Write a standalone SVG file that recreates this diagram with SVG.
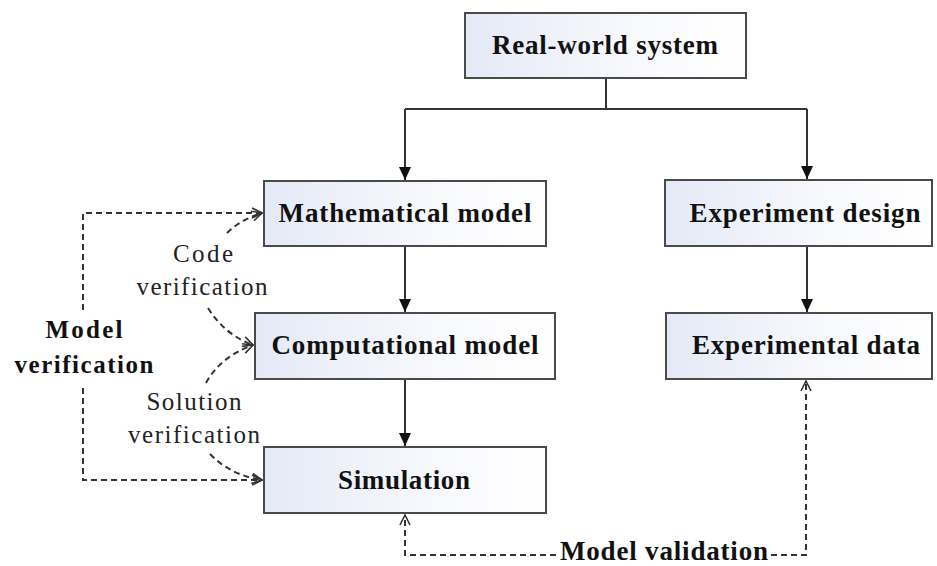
<svg xmlns="http://www.w3.org/2000/svg" width="937" height="566" viewBox="0 0 937 566">
<style>
.box{fill:url(#g);stroke:#4a4a4a;stroke-width:2}
.t{font-family:"Liberation Serif","DejaVu Serif",serif;font-weight:bold;font-size:27px;fill:#111;text-anchor:middle}
.m{font-family:"Liberation Serif","DejaVu Serif",serif;font-weight:bold;font-size:25px;fill:#111;text-anchor:middle}
.l{font-family:"Liberation Serif","DejaVu Serif",serif;font-size:25px;fill:#222;text-anchor:middle}
.s{fill:none;stroke:#333;stroke-width:2}
.d{fill:none;stroke:#333;stroke-width:2;stroke-dasharray:6 4}
</style>
<defs>
<linearGradient id="g" x1="0" y1="0" x2="1" y2="0">
<stop offset="0" stop-color="#e4e9f6"/>
<stop offset="0.6" stop-color="#f8f9fd"/>
<stop offset="1" stop-color="#ffffff"/>
</linearGradient>
<marker id="fa" markerUnits="userSpaceOnUse" markerWidth="14" markerHeight="14" viewBox="0 0 14 14" refX="13" refY="7" orient="auto">
<path d="M0,1 L13,7 L0,13 Z" fill="#111"/>
</marker>
<marker id="oa" markerUnits="userSpaceOnUse" markerWidth="12" markerHeight="12" viewBox="0 0 12 12" refX="11" refY="6" orient="auto">
<path d="M1,1 L11,6 L1,11" fill="none" stroke="#333" stroke-width="1.6"/>
</marker>
</defs>
<rect width="937" height="566" fill="#fff"/>
<g id="connectors">
<path class="s" d="M606,78 V109"/>
<path class="s" d="M405,109 H807"/>
<path class="s" d="M405,109 V180" marker-end="url(#fa)"/>
<path class="s" d="M807,109 V179" marker-end="url(#fa)"/>
<path class="s" d="M405,246 V312" marker-end="url(#fa)"/>
<path class="s" d="M807,246 V312" marker-end="url(#fa)"/>
<path class="s" d="M405,380 V446" marker-end="url(#fa)"/>
<path class="d" d="M83,310 V213 H262" marker-end="url(#oa)"/>
<path class="d" d="M83,388 V480 H262" marker-end="url(#oa)"/>
<path class="d" d="M227,233 Q240,220 262,213" marker-end="url(#oa)"/>
<path class="d" d="M208,308 Q225,335 253,345" marker-end="url(#oa)"/>
<path class="d" d="M206,383 Q220,357 253,345" marker-end="url(#oa)"/>
<path class="d" d="M210,454 Q230,475 262,480" marker-end="url(#oa)"/>
<path class="d" d="M556,555 H405 V515" marker-end="url(#oa)"/>
<path class="d" d="M771,555 H806 V381" marker-end="url(#oa)"/>
</g>
<g id="real-world">
<rect class="box" x="465" y="13" width="281" height="65"/>
<text class="t" x="605" y="54" textLength="226">Real-world system</text>
</g>
<g id="math-model">
<rect class="box" x="264" y="181" width="282" height="65"/>
<text class="t" x="405" y="222" textLength="253">Mathematical model</text>
</g>
<g id="exp-design">
<rect class="box" x="665" y="180" width="267" height="66"/>
<text class="t" x="805" y="222" textLength="231">Experiment design</text>
</g>
<g id="comp-model">
<rect class="box" x="255" y="313" width="300" height="66"/>
<text class="t" x="405" y="354" textLength="267">Computational model</text>
</g>
<g id="exp-data">
<rect class="box" x="666" y="313" width="266" height="66"/>
<text class="t" x="806" y="354" textLength="228">Experimental data</text>
</g>
<g id="simulation">
<rect class="box" x="264" y="447" width="282" height="66"/>
<text class="t" x="404" y="489" textLength="132">Simulation</text>
</g>
<g id="labels">
<text class="m" x="84" y="338" textLength="77">Model</text>
<text class="m" x="84" y="373" textLength="139">verification</text>
<text class="l" x="203" y="262" textLength="60">Code</text>
<text class="l" x="202" y="295" textLength="131">verification</text>
<text class="l" x="194" y="410" textLength="95">Solution</text>
<text class="l" x="194" y="443" textLength="132">verification</text>
<text class="t" x="664" y="560" textLength="208">Model validation</text>
</g>
</svg>
